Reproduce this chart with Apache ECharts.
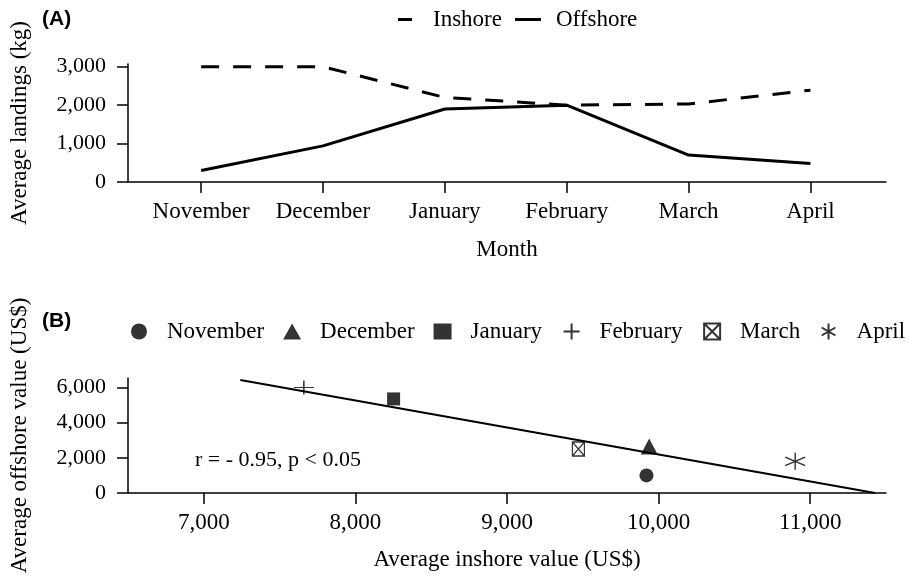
<!DOCTYPE html>
<html>
<head>
<meta charset="utf-8">
<script src="https://cdn.jsdelivr.net/npm/echarts@6/dist/echarts.min.js"></script>
<style>
  html, body { margin: 0; padding: 0; background: #fff; }
  #chart { width: 909px; height: 582px; }
</style>
</head>
<body>
<div id="chart"></div>
<script>
// panel A: monthly landings
const months = ["November", "December", "January", "February", "March", "April"];
const inshoreLandings = [3000, 3000, 2200, 2000, 2030, 2390];
const offshoreLandings = [300, 940, 1900, 2000, 700, 480];
const landingTicks = [0, 1000, 2000, 3000];

// panel B: inshore vs offshore value, one point per month
const inshoreValue = [9920, 9938, 8252, 7660, 9471, 10901];
const offshoreValue = [1000, 2650, 5350, 6000, 2500, 1800];
const valueXTicks = [7000, 8000, 9000, 10000, 11000];
const valueYTicks = [0, 2000, 4000, 6000];
const trendX = [7241, 11428];
const trendY = [6428, 0];

const FONT = "Liberation Serif";
const fmt = (v) => v.toLocaleString("en-US");

const monthSymbols = [
  { symbol: "circle", size: 14, filled: true },
  { symbol: "triangle", size: [17, 16], filled: true },
  { symbol: "rect", size: 13, filled: true },
  { symbol: "path://M0,5H10M5,0V10", size: [20, 14], filled: false },
  { symbol: "path://M0,0H10V10H0ZM0,0L10,10M10,0L0,10", size: [12, 14], filled: false },
  { symbol: "path://M5,0V10M0.7,2.5L9.3,7.5M9.3,2.5L0.7,7.5", size: [20, 17], filled: false },
];

const chart = echarts.init(document.getElementById("chart"));

const axisCommon = {
  axisLine: { show: true, onZero: false, lineStyle: { color: "#000", width: 1.5 } },
  axisTick: { show: true, length: 11, lineStyle: { color: "#000", width: 1.5 } },
  splitLine: { show: false },
  nameTextStyle: { fontFamily: FONT, fontSize: 23, color: "#000" },
};

const scatterSeries = months.map((m, i) => ({
  name: m,
  type: "scatter",
  xAxisIndex: 1,
  yAxisIndex: 1,
  symbol: monthSymbols[i].symbol,
  symbolSize: monthSymbols[i].size,
  itemStyle: monthSymbols[i].filled
    ? { color: "#000" }
    : { color: "none", borderColor: "#000", borderWidth: 1.3 },
  data: [[inshoreValue[i], offshoreValue[i]]],
  z: 3,
}));

chart.setOption({
  animation: false,
  title: [
    { text: "(A)", left: 37, top: 4, textStyle: { fontFamily: "Liberation Sans", fontWeight: "bold", fontSize: 21, color: "#000" } },
    { text: "(B)", left: 37, top: 306, textStyle: { fontFamily: "Liberation Sans", fontWeight: "bold", fontSize: 21, color: "#000" } },
  ],
  legend: [
    {
      data: [
        { name: "Inshore", icon: "path://M0,0H14V3H0Z" },
        { name: "Offshore", icon: "path://M0,0H26V3H0Z" },
      ],
      left: 393,
      top: 3,
      itemWidth: 26,
      itemHeight: 3,
      itemGap: 13,
      itemStyle: { color: "#000" },
      textStyle: { fontFamily: FONT, fontSize: 23, color: "#000", padding: [0, 0, 0, 10] },
    },
    {
      data: months,
      left: 131,
      top: 320,
      width: 778,
      padding: 0,
      itemWidth: 18,
      itemHeight: 16,
      itemGap: 19,
      textStyle: { fontFamily: FONT, fontSize: 23, color: "#000", padding: [0, 0, 0, 14] },
    },
  ],
  grid: [
    { left: 128, right: 23, top: 64, bottom: 400 },
    { left: 128, right: 23, top: 378, bottom: 89 },
  ],
  xAxis: [
    {
      ...axisCommon,
      gridIndex: 0,
      type: "value",
      min: -0.6,
      max: 5.62,
      axisTick: { ...axisCommon.axisTick, customValues: months.map((_, i) => i) },
      axisLabel: {
        customValues: months.map((_, i) => i),
        formatter: (v) => months[Math.round(v)],
        fontFamily: FONT, fontSize: 23, color: "#000", margin: 18,
      },
      name: "Month",
      nameLocation: "middle",
      nameGap: 56,
    },
    {
      ...axisCommon,
      gridIndex: 1,
      type: "value",
      min: 6500,
      max: 11500,
      axisTick: { ...axisCommon.axisTick, customValues: valueXTicks },
      axisLabel: {
        customValues: valueXTicks,
        formatter: fmt,
        fontFamily: FONT, fontSize: 23, color: "#000", margin: 18,
      },
      name: "Average inshore value (US$)",
      nameLocation: "middle",
      nameGap: 55,
    },
  ],
  yAxis: [
    {
      ...axisCommon,
      gridIndex: 0,
      type: "value",
      min: 0,
      max: 3070,
      axisTick: { ...axisCommon.axisTick, customValues: landingTicks },
      axisLabel: {
        customValues: landingTicks,
        formatter: fmt,
        fontFamily: FONT, fontSize: 22, color: "#000", margin: 22,
      },
      name: "Average landings (kg)",
      nameLocation: "middle",
      nameGap: 97,
    },
    {
      ...axisCommon,
      gridIndex: 1,
      type: "value",
      min: 0,
      max: 6540,
      axisTick: { ...axisCommon.axisTick, customValues: valueYTicks },
      axisLabel: {
        customValues: valueYTicks,
        formatter: fmt,
        fontFamily: FONT, fontSize: 22, color: "#000", margin: 22,
      },
      name: "Average offshore value (US$)",
      nameLocation: "middle",
      nameGap: 97,
    },
  ],
  graphic: [
    {
      type: "text",
      left: 195,
      top: 449,
      style: { text: "r = - 0.95, p < 0.05", font: "22px 'Liberation Serif'", fill: "#000" },
    },
  ],
  series: [
    {
      name: "Inshore",
      type: "line",
      xAxisIndex: 0,
      yAxisIndex: 0,
      symbol: "none",
      lineStyle: { color: "#000", width: 3, type: [18, 14] },
      itemStyle: { color: "#000" },
      data: inshoreLandings.map((v, i) => [i, v]),
    },
    {
      name: "Offshore",
      type: "line",
      xAxisIndex: 0,
      yAxisIndex: 0,
      symbol: "none",
      lineStyle: { color: "#000", width: 3 },
      itemStyle: { color: "#000" },
      data: offshoreLandings.map((v, i) => [i, v]),
    },
    {
      name: "trend",
      type: "line",
      xAxisIndex: 1,
      yAxisIndex: 1,
      symbol: "none",
      lineStyle: { color: "#000", width: 2 },
      data: trendX.map((x, i) => [x, trendY[i]]),
      z: 2,
    },
    ...scatterSeries,
  ],
});
</script>
</body>
</html>
